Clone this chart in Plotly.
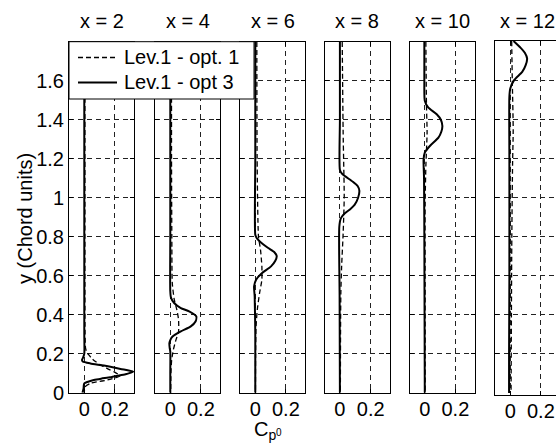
import plotly.graph_objects as go

W, H = 556, 444

panel_titles = ["x = 2", "x = 4", "x = 6", "x = 8", "x = 10", "x = 12"]
y_tick_vals = [0, 0.2, 0.4, 0.6, 0.8, 1.0, 1.2, 1.4, 1.6]
y_tick_text = ["0", "0.2", "0.4", "0.6", "0.8", "1", "1.2", "1.4", "1.6"]
x_tick_vals = [0, 0.2]
x_tick_text = ["0", "0.2"]
legend_names = ["Lev.1 - opt. 1", "Lev.1 - opt 3"]

# x = 2
y_x2_opt3 = [1.80, 1.40, 1.00, 0.60, 0.30, 0.20, 0.18, 0.168, 0.16, 0.15, 0.139, 0.122, 0.108, 0.095, 0.085, 0.079, 0.072, 0.065, 0.055, 0.048, 0.04, 0.02, 0.0]
cp_x2_opt3 = [0.0, 0.0, 0.0, 0.0, 0.0, 0.0, -0.008, -0.015, -0.01, 0.04, 0.128, 0.237, 0.32, 0.27, 0.2, 0.17, 0.11, 0.062, 0.02, 0.0, -0.003, -0.005, -0.012]
y_x2_opt1 = [1.8, 1.0, 0.5, 0.3, 0.23, 0.21, 0.195, 0.175, 0.16, 0.145, 0.134, 0.12, 0.108, 0.095, 0.086, 0.075, 0.065, 0.055, 0.048, 0.03, 0.0]
cp_x2_opt1 = [0.004, 0.004, 0.004, 0.005, 0.008, 0.015, 0.028, 0.05, 0.073, 0.10, 0.127, 0.16, 0.193, 0.22, 0.233, 0.2, 0.15, 0.08, 0.04, 0.005, 0.0]

# x = 4
y_x4_opt3 = [1.8, 1.2, 0.8, 0.52, 0.486, 0.46, 0.434, 0.417, 0.391, 0.365, 0.34, 0.314, 0.288, 0.27, 0.254, 0.23, 0.211, 0.1, 0.0]
cp_x4_opt3 = [0.0, 0.0, 0.0, 0.0, 0.005, 0.025, 0.069, 0.123, 0.17, 0.165, 0.134, 0.069, 0.015, 0.0, -0.006, -0.004, 0.0, 0.0, 0.0]
y_x4_opt1 = [1.8, 1.2, 0.8, 0.563, 0.477, 0.425, 0.374, 0.314, 0.271, 0.22, 0.168, 0.1, 0.0]
cp_x4_opt1 = [0.008, 0.008, 0.01, 0.013, 0.026, 0.043, 0.054, 0.054, 0.037, 0.02, 0.009, 0.004, 0.003]

# x = 6
y_x6_opt3 = [1.8, 1.2, 0.81, 0.795, 0.777, 0.743, 0.72, 0.70, 0.675, 0.648, 0.61, 0.58, 0.545, 0.494, 0.3, 0.0]
cp_x6_opt3 = [0.0, 0.0, 0.0, 0.008, 0.028, 0.082, 0.125, 0.14, 0.13, 0.103, 0.039, 0.006, -0.008, -0.004, 0.0, 0.0]
y_x6_opt1 = [1.8, 1.2, 0.80, 0.734, 0.648, 0.58, 0.511, 0.425, 0.34, 0.2, 0.0]
cp_x6_opt1 = [0.01, 0.012, 0.021, 0.034, 0.043, 0.043, 0.028, 0.013, 0.005, 0.002, 0.001]

# x = 8
y_x8_opt3 = [1.8, 1.4, 1.142, 1.125, 1.111, 1.082, 1.06, 1.036, 1.0, 0.963, 0.94, 0.92, 0.894, 0.851, 0.5, 0.0]
cp_x8_opt3 = [0.0, 0.0, 0.0, 0.012, 0.032, 0.084, 0.115, 0.126, 0.118, 0.095, 0.065, 0.032, 0.006, -0.004, -0.002, 0.0]
y_x8_opt1 = [1.8, 1.33, 1.159, 1.005, 0.817, 0.646, 0.51, 0.3, 0.0]
cp_x8_opt1 = [0.015, 0.021, 0.025, 0.028, 0.021, 0.011, 0.006, 0.004, 0.003]

# x = 10
y_x10_opt3 = [1.8, 1.6, 1.497, 1.463, 1.428, 1.40, 1.368, 1.338, 1.308, 1.265, 1.231, 1.197, 1.1, 0.8, 0.0]
cp_x10_opt3 = [-0.003, -0.003, 0.0, 0.022, 0.078, 0.105, 0.115, 0.108, 0.089, 0.033, 0.0, -0.008, -0.005, -0.003, 0.0]
y_x10_opt1 = [1.8, 1.47, 1.334, 1.162, 0.957, 0.5, 0.0]
cp_x10_opt1 = [0.007, 0.011, 0.015, 0.007, 0.002, 0.002, 0.002]

# x = 12
y_x12_opt3 = [1.8, 1.765, 1.74, 1.71, 1.675, 1.642, 1.6, 1.557, 1.515, 1.2, 0.6, 0.2, 0.0]
cp_x12_opt3 = [0.021, 0.068, 0.095, 0.11, 0.1, 0.078, 0.025, 0.0, -0.006, -0.006, -0.006, -0.008, -0.008]
y_x12_opt1 = [1.8, 1.6, 1.345, 1.175, 0.8, 0.0]
cp_x12_opt1 = [0.009, 0.013, 0.019, 0.015, 0.01, 0.005]

opt3_y = [y_x2_opt3, y_x4_opt3, y_x6_opt3, y_x8_opt3, y_x10_opt3, y_x12_opt3]
opt3_cp = [cp_x2_opt3, cp_x4_opt3, cp_x6_opt3, cp_x8_opt3, cp_x10_opt3, cp_x12_opt3]
opt1_y = [y_x2_opt1, y_x4_opt1, y_x6_opt1, y_x8_opt1, y_x10_opt1, y_x12_opt1]
opt1_cp = [cp_x2_opt1, cp_x4_opt1, cp_x6_opt1, cp_x8_opt1, cp_x10_opt1, cp_x12_opt1]

# layout (pixels)
panel_px = [(69, 134), (155, 220), (240, 305), (324.5, 390), (409.5, 474.5), (495, 560)]
top_px, bot_px = 41.7, 392.7
x_range = [-0.1, 0.325]
FONT = "Liberation Sans, Arial, sans-serif"
fs = 20
DASH_CURVE = "5px,3px"
GRID_DASH = "5px,4px"

fig = go.Figure()
layout = dict(width=W, height=H, margin=dict(l=0, r=0, t=0, b=0, pad=0, autoexpand=False),
              paper_bgcolor="white", plot_bgcolor="white",
              font=dict(family=FONT, size=fs, color="black"),
              showlegend=False)
annotations = []
for i in range(6):
    n = "" if i == 0 else str(i + 1)
    l, r = panel_px[i]
    rng = list(x_range)
    if r > W:
        span = x_range[1] - x_range[0]
        rng = [x_range[0], x_range[0] + span * (W - l) / (r - l)]
        r = W
    if i < 5:
        tp, bp, yr, yt = top_px, bot_px, [0, 1.8], y_tick_vals
    else:
        tp, bp, yr, yt = 41.0, 395.0, [-0.01, 1.8], y_tick_vals[1:]
    layout["xaxis" + n] = dict(domain=[l / W, r / W], range=rng, anchor="y" + n, automargin=False,
                               tickvals=x_tick_vals, ticktext=x_tick_text,
                               ticks="inside", ticklen=4, tickcolor="black", ticklabelstandoff=-2,
                               showline=True, linecolor="black", linewidth=1, mirror="ticks",
                               showgrid=True, gridcolor="#222", gridwidth=1, griddash=GRID_DASH,
                               zeroline=False, tickfont=dict(size=fs, family=FONT, color="black"))
    layout["yaxis" + n] = dict(domain=[1 - bp / H, 1 - tp / H], range=yr, anchor="x" + n, automargin=False,
                               tickvals=yt, ticktext=y_tick_text[len(y_tick_text) - len(yt):],
                               showticklabels=(i == 0),
                               ticks="inside", ticklen=4, tickcolor="black",
                               showline=True, linecolor="black", linewidth=1,
                               mirror=("ticks" if i < 5 else False),
                               showgrid=True, gridcolor="#222", gridwidth=1, griddash=GRID_DASH,
                               zeroline=False, tickfont=dict(size=fs, family=FONT, color="black"))
    xa, ya = "x" + n, "y" + n
    fig.add_trace(go.Scatter(x=opt1_cp[i], y=opt1_y[i], mode="lines", xaxis=xa, yaxis=ya,
                             name=legend_names[0],
                             line=dict(color="black", width=1.3, dash=DASH_CURVE, shape="spline", smoothing=0.6)))
    fig.add_trace(go.Scatter(x=opt3_cp[i], y=opt3_y[i], mode="lines", xaxis=xa, yaxis=ya,
                             name=legend_names[1],
                             line=dict(color="black", width=2, shape="spline", smoothing=0.6)))
    cx = (panel_px[i][0] + panel_px[i][1]) / 2
    annotations.append(dict(x=cx / W, y=1 - 20.5 / H, xref="paper", yref="paper",
                            text=panel_titles[i], showarrow=False, xanchor="center", yanchor="middle",
                            font=dict(size=fs, family=FONT, color="black")))

annotations.append(dict(x=25 / W, y=1 - 219 / H, xref="paper", yref="paper", text="y (Chord units)",
                        textangle=-90, showarrow=False, xanchor="center", yanchor="middle",
                        font=dict(size=fs, family=FONT, color="black")))
annotations.append(dict(x=252 / W, y=1 - 430 / H, xref="paper", yref="paper", text="C<sub>p</sub>",
                        showarrow=False, xanchor="left", yanchor="middle",
                        font=dict(size=fs, family=FONT, color="black")))
annotations.append(dict(x=274 / W, y=1 - 432 / H, xref="paper", yref="paper", text="0",
                        showarrow=False, xanchor="left", yanchor="middle",
                        font=dict(size=10, family=FONT, color="black")))

# legend box (drawn manually to match the reference's box size)
leg_l, leg_r, leg_t, leg_b = 69, 254, 41.7, 99
rows_y = [57.5, 82.5]
shapes = [dict(type="rect", xref="paper", yref="paper", layer="above",
               x0=leg_l / W, x1=leg_r / W, y0=1 - leg_b / H, y1=1 - leg_t / H,
               fillcolor="white", line=dict(color="black", width=1))]
styles = [dict(color="black", width=1.3, dash=DASH_CURVE), dict(color="black", width=2)]
for k in range(2):
    shapes.append(dict(type="line", xref="paper", yref="paper", layer="above",
                       x0=78 / W, x1=117 / W, y0=1 - rows_y[k] / H, y1=1 - rows_y[k] / H,
                       line=styles[k]))
    annotations.append(dict(x=122 / W, y=1 - rows_y[k] / H, xref="paper", yref="paper",
                            text=legend_names[k], showarrow=False, xanchor="left", yanchor="middle",
                            font=dict(size=fs, family=FONT, color="black")))
layout["shapes"] = shapes
layout["annotations"] = annotations
fig.update_layout(**layout)
fig.write_html("out.html")
